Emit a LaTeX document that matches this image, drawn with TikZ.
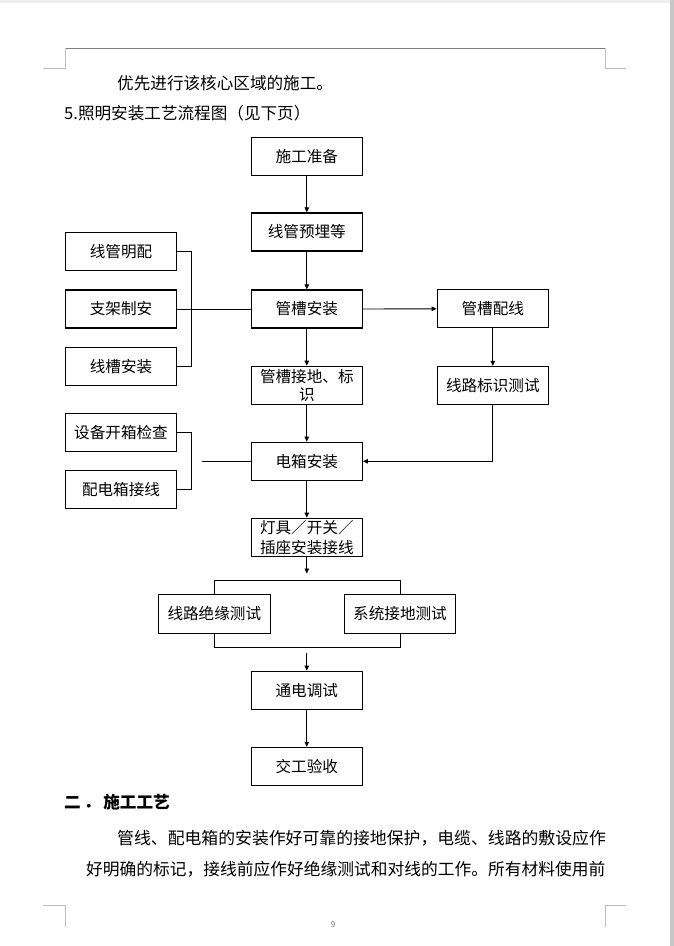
\documentclass[tikz,border=0pt]{standalone}
\usepackage{fontspec}
\setmainfont{Noto Sans CJK SC}
\usetikzlibrary{arrows.meta}
\begin{document}
\begin{tikzpicture}[x=1pt,y=-1pt,
  box/.style={draw,line width=1.2pt,minimum width=111pt,minimum height=38pt,inner sep=0pt,
    font=\fontsize{15.6}{18}\selectfont,align=center},
  link/.style={line width=0.9pt},
  arr/.style={link,-{Triangle[length=5pt,width=4.5pt]}},
  para/.style={anchor=west,inner sep=0pt,font=\fontsize{16.6}{20}\selectfont},
  corner/.style={draw=black!25,line width=0.8pt}]
\useasboundingbox (0,0) rectangle (674,946);
\fill[white] (0,0) rectangle (674,946);
\fill[black!6] (0,0) rectangle (674,3);
\fill[black!22] (670,0) rectangle (674,946);
% page frame marks
\draw[black!50,line width=1pt] (65,48) -- (605,48);
\draw[corner] (65,48) -- (65,68) -- (43,68);
\draw[corner] (605,48) -- (605,68) -- (626,68);
\draw[corner] (43,905) -- (65,905) -- (65,927);
\draw[corner] (626,905) -- (605,905) -- (605,927);
% text
\node[para] (p1) at (117,83) {优先进行该核心区域的施工。};
\node[para] (p2) at (64,113) {5.照明安装工艺流程图（见下页）};
\node[para,font=\fontsize{16.6}{20}\selectfont\bfseries] (h2) at (64,802) {二\hspace{3pt}．\hspace{3pt}施工工艺};
\node[para,font=\fontsize{16.85}{20}\selectfont] (b1) at (117,838) {管线、配电箱的安装作好可靠的接地保护，电缆、线路的敷设应作};
\node[para,font=\fontsize{16.75}{20}\selectfont] (b2) at (86,869) {好明确的标记，接线前应作好绝缘测试和对线的工作。所有材料使用前};
\node[font=\fontsize{8}{9}\selectfont,text=black!55] (pn) at (333,925) {9};
% main column
\node[box] (sz) at (306.8,156.2) {施工准备};
\node[box] (xg) at (306.8,232) {线管预埋等};
\node[box] (ga) at (306.8,309) {管槽安装};
\node[box] (gj) at (306.8,385.2) {管槽接地、标\\识};
\node[box,align=left,font=\fontsize{15.6}{20}\selectfont] (dj) at (306.8,537.2) {灯具／开关／\\插座安装接线};
\node[box] (dx) at (306.8,461.3) {电箱安装};
\node[box] (td) at (306.8,690.2) {通电调试};
\node[box] (jg) at (306.8,766.4) {交工验收};
% left column
\node[box] (lm) at (121,251.5) {线管明配};
\node[box] (zj) at (121,309) {支架制安};
\node[box] (lc) at (121,366.3) {线槽安装};
\node[box] (sb) at (121,432.5) {设备开箱检查};
\node[box] (pd) at (121,489.8) {配电箱接线};
% right column
\node[box] (pc) at (492.8,308.8) {管槽配线};
\node[box] (bs) at (492.8,385.5) {线路标识测试};
% tests
\node[box,minimum width=112pt,minimum height=39pt] (jy) at (214.3,613.8) {线路绝缘测试};
\node[box,minimum height=39pt] (jd) at (400,613.8) {系统接地测试};
% free ends
\coordinate (gapL) at (202,461.3);
\coordinate (djEnd) at (306.8,573.5);
\coordinate (tdStart) at (306.8,652.7);
% connectors
\draw[arr] (sz.south) -- (xg.north);
\draw[arr] (xg.south) -- (ga.north);
\draw[arr] (ga.south) -- (gj.north);
\draw[arr] (gj.south) -- (dx.north);
\draw[arr] (dx.south) -- (dj.north);
\draw[arr] (dj.south) -- (djEnd);
\draw[arr] (tdStart) -- (td.north);
\draw[arr] (td.south) -- (jg.north);
\draw[link] (lm.east) -- ++(14,0) |- (lc.east);
\draw[link] (zj.east) -- (ga.west);
\draw[link] (sb.east) -- ++(14,0) |- (pd.east);
\draw[link] (gapL) -- (dx.west);
\draw[arr] (ga.east) -- (pc.west);
\draw[arr] (pc.south) -- (bs.north);
\draw[arr] (bs.south) |- (dx.east);
\draw[link] (jy.north) -- ++(0,-13.6) -| (jd.north);
\draw[link] (jy.south) -- ++(0,13.5) -| (jd.south);
\end{tikzpicture}
\end{document}
